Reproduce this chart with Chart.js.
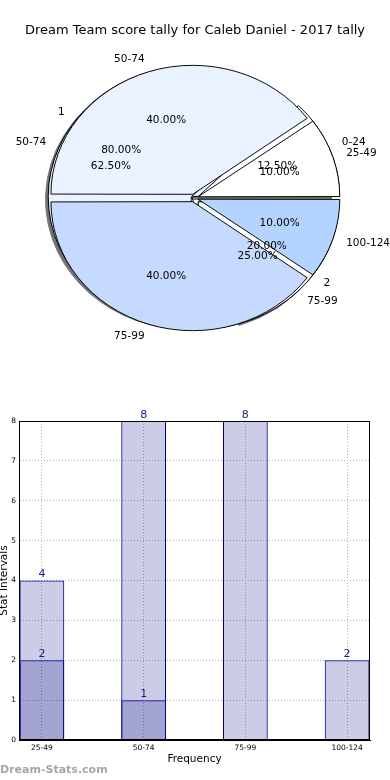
<!DOCTYPE html>
<html>
<head>
<meta charset="utf-8">
<script src="https://cdn.jsdelivr.net/npm/chart.js@4.4.1/dist/chart.umd.min.js"></script>
<style>
  html,body{margin:0;padding:0;background:#fff;}
  body{width:390px;height:780px;position:relative;overflow:hidden;font-family:"DejaVu Sans",sans-serif;}
  .pie{position:absolute;left:0;top:0;}
  #pieA{filter:drop-shadow(-3px 3px 0 rgba(40,40,40,0.65));}
  #bars{position:absolute;left:0;top:400px;}
  #title{position:absolute;left:0;top:22px;width:390px;text-align:center;font-size:13px;line-height:16px;color:#000;}
  #mark{position:absolute;left:0;top:762px;font-size:11px;line-height:16px;font-weight:bold;color:#a6a6a6;}
</style>
</head>
<body>
<canvas id="pieA" class="pie" width="390" height="396"></canvas>
<canvas id="pieB" class="pie" width="390" height="396"></canvas>
<canvas id="pieC" class="pie" width="390" height="396"></canvas>
<canvas id="bars" width="390" height="380"></canvas>
<div id="title">Dream Team score tally for Caleb Daniel - 2017 tally</div>
<div id="mark">Dream-Stats.com</div>
<script>
// pies (3 drawn on top of each other, last one on top)
const tallyLabels = ["25-49","50-74","75-99","100-124"];
const tallyShare  = [10,40,40,10];
const groupLabels = ["1","2"];
const groupShare  = [80,20];
const rangeLabels = ["0-24","50-74","75-99"];
const rangeShare  = [12.5,62.5,25];

// bars
const barLabels = ["25-49","50-74","75-99","100-124"];
const barLight  = [4,8,8,2];
const barDark   = [2,1,null,null];

const SQUASH = 0.91;   // pie is an ellipse in the original
const EXPLODE = 6;
const R = 140;
const FONT = "'DejaVu Sans'";

function explodeOffset(c){
  const vals = c.dataset.data;
  const tot = vals.reduce((a,b)=>a+b,0);
  const circ = 2*Math.PI*vals[c.dataIndex]/tot;
  const fix = 1 - Math.sin(Math.min(Math.PI, circ));
  return 4*EXPLODE/(1+fix);
}

const squash = {
  id:"squash",
  beforeDatasetsDraw(chart){
    const a = chart.getDatasetMeta(0).data[0];
    const ctx = chart.ctx;
    ctx.save();
    ctx.translate(a.x,a.y); ctx.scale(1,SQUASH); ctx.translate(-a.x,-a.y);
  },
  afterDatasetsDraw(chart){ chart.ctx.restore(); }
};

const under = [];
const pieText = {
  id:"pieText",
  afterDraw(chart){
    const ctx = chart.ctx;
    ctx.save();
    ctx.font = "10.5px " + FONT;
    ctx.fillStyle = "#000";
    ctx.textBaseline = "middle";
    under.concat(chart).forEach(p=>{
      const meta = p.getDatasetMeta(0);
      const labels = p.data.labels;
      const vals = p.data.datasets[0].data;
      const tot = vals.reduce((a,b)=>a+b,0);
      meta.data.forEach((arc,i)=>{
        const mid = (arc.startAngle+arc.endAngle)/2;
        const cs = Math.cos(mid), sn = Math.sin(mid);
        const r = arc.outerRadius;
        const d1 = 1.1*r + EXPLODE, d2 = 0.6*r + EXPLODE;
        ctx.textAlign = cs >= 0 ? "left" : "right";
        ctx.fillText(labels[i], arc.x + d1*cs, arc.y + d1*sn*SQUASH);
        ctx.textAlign = "center";
        ctx.fillText((vals[i]/tot*100).toFixed(2) + "%", arc.x + d2*cs, arc.y + d2*sn*SQUASH);
      });
    });
    ctx.restore();
  }
};

function makePie(id, labels, values, colors, extra){
  return new Chart(document.getElementById(id), {
    type:"pie",
    data:{
      labels: labels.slice().reverse(),
      datasets:[{
        data: values.slice().reverse(),
        backgroundColor: colors.slice().reverse(),
        borderColor:"#000", borderWidth:1,
        radius:R, offset:explodeOffset, hoverOffset:0
      }]
    },
    options:{
      responsive:false, animation:false, events:[], rotation:90,
      layout:{padding:{right:2}},
      plugins:{legend:{display:false}, tooltip:{enabled:false}}
    },
    plugins:[squash].concat(extra||[])
  });
}

under.push(makePie("pieA", groupLabels, groupShare, ["#eaf1ff","#c6d9ff"]));
under.push(makePie("pieB", rangeLabels, rangeShare, ["#ffffff","#eaf1ff","#ffffff"]));
makePie("pieC", tallyLabels, tallyShare, ["#ffffff","#eaf1ff","#c6d9ff","#b3d4ff"], [pieText]);

// bar chart
const barText = {
  id:"barText",
  afterDatasetsDraw(chart){
    const ctx = chart.ctx;
    ctx.save();
    ctx.font = "11px " + FONT;
    ctx.fillStyle = "#1a1a8c";
    ctx.textAlign = "center";
    ctx.textBaseline = "middle";
    chart.data.datasets.forEach((ds,di)=>{
      chart.getDatasetMeta(di).data.forEach((bar,i)=>{
        const v = ds.data[i].y;
        if(v==null) return;
        ctx.fillText(String(v), bar.x, bar.y - 6);
      });
    });
    ctx.restore();
  }
};

const frame = {
  id:"frame",
  afterDraw(chart){
    const {left,top,right,bottom} = chart.chartArea;
    const ctx = chart.ctx;
    ctx.save();
    ctx.strokeStyle = "#000";
    ctx.lineWidth = 1;
    ctx.strokeRect(Math.round(left)+0.5, Math.round(top)+0.5, Math.round(right-left)-1, Math.round(bottom-top)-1);
    ctx.restore();
  }
};

const barStyle = {backgroundColor:"rgba(0,0,128,0.2)", borderColor:"#00008b", borderWidth:1, grouped:false, barPercentage:0.44, categoryPercentage:1};
const gridOpts = {color:"#b4b4b4", drawTicks:false, lineWidth:1, offset:false};
const borderOpts = {color:"#000", dash:[1,2]};

new Chart(document.getElementById("bars"), {
  type:"bar",
  data:{
    datasets:[
      Object.assign({data: barLight.map((v,i)=>({x:i,y:v}))}, barStyle),
      Object.assign({data: barDark.map((v,i)=>({x:i,y:v}))}, barStyle)
    ]
  },
  options:{
    responsive:false, animation:false, events:[],
    layout:{padding:{top:21,right:20,left:0,bottom:0}},
    plugins:{legend:{display:false}, tooltip:{enabled:false}},
    scales:{
      x:{
        type:"linear", min:-0.225, max:3.225, offset:false,
        afterFit(s){ s.height = 40; },
        ticks:{stepSize:1, includeBounds:false, autoSkip:false, maxRotation:0, padding:4, color:"#000",
               font:{size:7.5, family:"DejaVu Sans"}, callback:v=>barLabels[v] ?? ""},
        grid:gridOpts, border:borderOpts,
        title:{display:true, text:"Frequency", color:"#000", font:{size:10.5, family:"DejaVu Sans"}, padding:{top:0,bottom:14}}
      },
      y:{
        min:0, max:8,
        afterFit(s){ s.width = 19; },
        ticks:{stepSize:1, padding:3, color:"#000", font:{size:7.5, family:"DejaVu Sans"}},
        grid:gridOpts, border:borderOpts,
        title:{display:true, text:"Stat Intervals", color:"#000", font:{size:10.5, family:"DejaVu Sans"}, padding:{top:-2,bottom:0}}
      }
    }
  },
  plugins:[barText, frame]
});
</script>
</body>
</html>
